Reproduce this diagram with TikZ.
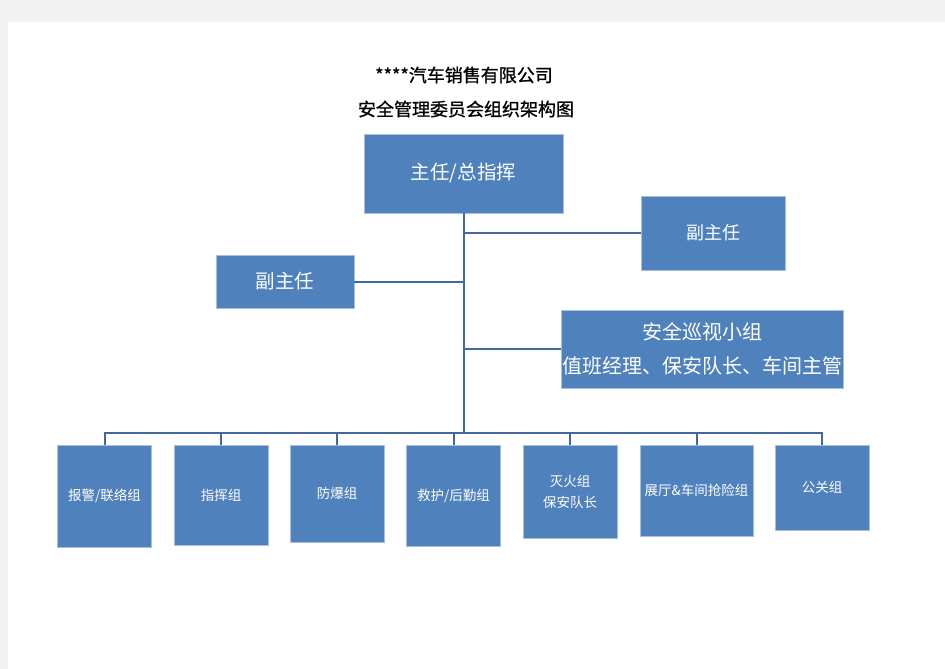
\documentclass[tikz,border=0pt]{standalone}
\usepackage{fontspec}
\setmainfont{Noto Sans CJK SC}
\newfontfamily\titlefont{Noto Sans CJK SC}[FakeBold=1]
\usetikzlibrary{positioning}
\definecolor{boxblue}{HTML}{4F81BD}
\definecolor{linkblue}{HTML}{41699C}
\definecolor{pagegray}{HTML}{F3F3F3}

\begin{document}
\begin{tikzpicture}[
		x=1pt, y=-1pt,
		link/.style={draw=linkblue, line width=2pt},
		box/.style={fill=boxblue, draw=boxblue!50!white, line width=0.6pt, text=white, align=center, inner sep=0pt},
		leader/.style={box, font=\fontsize{19.5}{34}\selectfont},
		group/.style={box, anchor=north, minimum width=94pt, font=\fontsize{13.5}{21}\selectfont},
		title/.style={font=\titlefont\fontsize{18}{20}\selectfont},
	]
	\useasboundingbox (0,0) rectangle (945,669);
	\fill[pagegray] (0,0) rectangle (945,669);
	\fill[white] (8,22) rectangle (945,669);

	\node[title] (company) at (464,75) {****汽车销售有限公司};
	\node[title] (chart title) at (466,109) {安全管理委员会组织架构图};

	\node[leader, minimum width=199pt, minimum height=79pt] (director) at (463.5,173.5) {主任/总指挥};
	\node[leader, minimum width=144pt, minimum height=74pt, font=\fontsize{18}{22}\selectfont] (deputy right) at (713,233) {副主任};
	\node[leader, minimum width=138pt, minimum height=53pt] (deputy left) at (285,281.5) {副主任};
	\node[leader, minimum width=282pt, minimum height=78pt, font=\fontsize{20}{34}\selectfont] (patrol) at (702,349) {安全巡视小组\\值班经理、保安队长、车间主管};

	\node[group, minimum height=102pt] (alarm) at (104.5,445) {报警/联络组};
	\node[group, minimum height=100pt] (command) at (221,445) {指挥组};
	\node[group, minimum height=97pt] (explosion) at (337,445) {防爆组};
	\node[group, minimum height=101pt] (rescue) at (453.5,445) {救护/后勤组};
	\node[group, minimum height=93pt] (fire) at (570,445) {灭火组\\保安队长};
	\node[group, minimum width=113pt, minimum height=91pt] (repair) at (696.5,445) {展厅\&车间抢险组};
	\node[group, minimum height=85pt] (public) at (822,445) {公关组};

	\coordinate (bus) at (463.5,433);

	\draw[link] (director.south) -- (bus);
	\draw[link] (director.south |- deputy right.west) -- (deputy right.west);
	\draw[link] (deputy left.east) -- (director.south |- deputy left.east);
	\draw[link] (director.south |- patrol.west) -- (patrol.west);
	\draw[link] (alarm.north) -- (alarm.north |- bus) -- (public.north |- bus) -- (public.north);
	\foreach \g in {command, explosion, rescue, fire, repair}
		\draw[link] (\g.north) -- (\g.north |- bus);
\end{tikzpicture}
\end{document}
